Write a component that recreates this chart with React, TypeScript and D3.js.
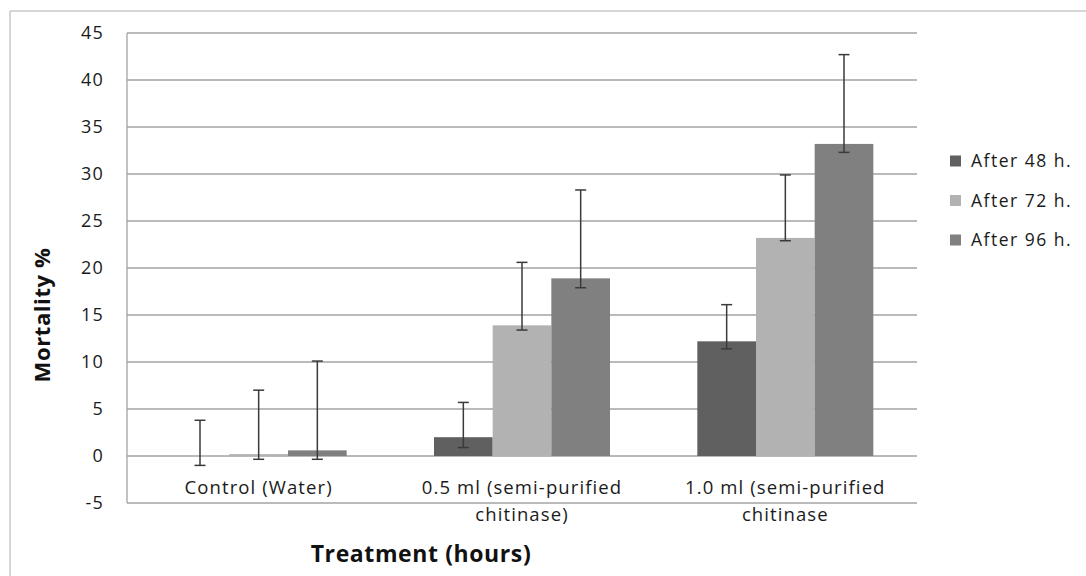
import React from "react";
import * as d3 from "d3";

const categories = ["Control (Water)", "0.5 ml (semi-purified\nchitinase)", "1.0 ml (semi-purified\nchitinase"];
const seriesNames = ["After 48 h.", "After 72 h.", "After 96 h."];
const after48 = [0, 2.0, 12.2];
const after72 = [0.2, 13.9, 23.2];
const after96 = [0.6, 18.9, 33.2];
const errUp48 = [3.8, 3.7, 3.9];
const errDown48 = [1.0, 1.1, 0.8];
const errUp72 = [6.8, 6.7, 6.7];
const errDown72 = [0.55, 0.5, 0.3];
const errUp96 = [9.5, 9.4, 9.5];
const errDown96 = [0.95, 1.0, 0.9];
const yTicks = [-5, 0, 5, 10, 15, 20, 25, 30, 35, 40, 45];
const colors = ["#606060", "#b2b2b2", "#808080"];

const W = 1086, H = 576;
const plot = { left: 127, right: 917, top: 33, bottom: 503 };
const font = "'Open Sans', sans-serif";

export default function App() {
  const y = d3.scaleLinear().domain([-5, 45]).range([plot.bottom, plot.top]);
  const x = d3.scaleBand<string>().domain(categories).range([plot.left, plot.right]).padding(0);
  const bw = x.bandwidth();
  const groupW = 176;
  const xs = d3.scaleBand<string>().domain(seriesNames).range([(bw - groupW) / 2, (bw + groupW) / 2]).padding(0);
  const values = [after48, after72, after96];
  const ups = [errUp48, errUp72, errUp96];
  const downs = [errDown48, errDown72, errDown96];

  return (
    <svg width={W} height={H} style={{ position: "absolute", left: 0, top: 0, background: "#fff" }}>
      <line x1={10} y1={11} x2={W} y2={11} stroke="#c8c8c8" strokeWidth={1.5} />
      <line x1={10} y1={11} x2={10} y2={H} stroke="#c8c8c8" strokeWidth={1.5} />
      {yTicks.map((t) => (
        <g key={t}>
          <line x1={plot.left} x2={plot.right} y1={y(t)} y2={y(t)} stroke="#a3a3a3" strokeWidth={1.3} />
          <text x={104} y={y(t)} dy="0.36em" textAnchor="end" fontFamily={font} fontSize={18} letterSpacing={1.2} fill="#1a1a1a">{t}</text>
        </g>
      ))}
      <line x1={plot.left} x2={plot.left} y1={plot.top} y2={plot.bottom} stroke="#a3a3a3" strokeWidth={1.3} />
      {categories.map((c, ci) => (
        <g key={c} transform={`translate(${x(c)},0)`}>
          {seriesNames.map((s, si) => {
            const v = values[si][ci];
            const bx = xs(s)!;
            return (
              <rect key={s} x={bx} width={xs.bandwidth()} y={Math.min(y(v), y(0))} height={Math.abs(y(0) - y(v))} fill={colors[si]} />
            );
          })}
          {seriesNames.map((s, si) => {
            const v = values[si][ci];
            const cx = xs(s)! + xs.bandwidth() / 2;
            const hi = y(v + ups[si][ci]);
            const lo = y(v - downs[si][ci]);
            return (
              <g key={s + "e"} stroke="#3a3a3a" strokeWidth={1.5}>
                <line x1={cx} x2={cx} y1={hi} y2={lo} />
                <line x1={cx - 5.5} x2={cx + 5.5} y1={hi} y2={hi} />
                <line x1={cx - 5.5} x2={cx + 5.5} y1={lo} y2={lo} />
              </g>
            );
          })}
          {c.split("\n").map((line, li) => (
            <text key={li} x={bw / 2} y={494 + li * 27} textAnchor="middle" fontFamily={font} fontSize={18.5} letterSpacing={1.1} fill="#1a1a1a">{line}</text>
          ))}
        </g>
      ))}
      {seriesNames.map((s, si) => (
        <g key={s} transform={`translate(950,${161 + si * 39.5})`}>
          <rect x={0} y={-5.5} width={11} height={11} fill={colors[si]} />
          <text x={21} y={0} dy="0.36em" fontFamily={font} fontSize={17.5} letterSpacing={1.5} fill="#1a1a1a">{s}</text>
        </g>
      ))}
      <text x={421} y={562} textAnchor="middle" fontFamily={font} fontSize={23} fontWeight="bold" letterSpacing={0.6} fill="#111">Treatment (hours)</text>
      <text transform="translate(50,315) rotate(-90)" textAnchor="middle" fontFamily={font} fontSize={22} fontWeight="bold" letterSpacing={0.6} fill="#111">Mortality %</text>
    </svg>
  );
}
